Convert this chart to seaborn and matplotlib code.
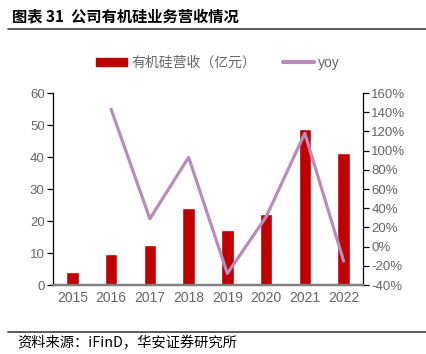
import numpy as np
import pandas as pd
import matplotlib
matplotlib.use("Agg")
import matplotlib.pyplot as plt
import seaborn as sns
from matplotlib.patches import Patch
from matplotlib.lines import Line2D
from matplotlib.ticker import FuncFormatter, MultipleLocator

# ---- data ----
years = ["2015", "2016", "2017", "2018", "2019", "2020", "2021", "2022"]
revenue = [4.0, 9.7, 12.4, 24.0, 17.1, 22.3, 48.6, 41.4]
yoy = [np.nan, 143, 29, 93, -28, 31, 118, -15]
bar_label = "有机硅营收（亿元）"
line_label = "yoy"
title = "图表 31  公司有机硅业务营收情况"
source = "资料来源：iFinD，华安证券研究所"

sns.set_style("white")
plt.rcParams["font.family"] = ["Noto Sans CJK SC", "DejaVu Sans"]
num_font = ["Liberation Sans Narrow", "Liberation Sans", "DejaVu Sans"]

BAR = "#C00000"
LINE = "#B68DBB"
GRAY = "#666666"

W, H = 427, 354
fig = plt.figure(figsize=(W / 100, H / 100), dpi=100)

def px(x0, y0, x1, y1):
    return [x0 / W, 1 - y1 / H, (x1 - x0) / W, (y1 - y0) / H]

ax = fig.add_axes(px(53, 93, 363, 285))
df = pd.DataFrame({"year": years, "revenue": revenue, "yoy": yoy})
sns.barplot(data=df, x="year", y="revenue", color=BAR, width=0.32,
            saturation=1, ax=ax, zorder=2)
ax.set_xlim(-0.5, len(years) - 0.5)
ax.set_ylim(0, 60)
ax.yaxis.set_major_locator(MultipleLocator(10))
ax.set_xlabel("")
ax.set_ylabel("")

ax2 = ax.twinx()
line_df = df.dropna().copy()
line_df["pos"] = [years.index(y) for y in line_df["year"]]
sns.lineplot(data=line_df, x="pos", y="yoy", color=LINE, linewidth=2.3,
             ax=ax2, zorder=3)
ax2.set_ylim(-40, 160)
ax2.yaxis.set_major_locator(MultipleLocator(20))
ax2.yaxis.set_major_formatter(FuncFormatter(lambda v, p: f"{v:.0f}%"))
ax2.set_xlabel("")
ax2.set_ylabel("")
ax2.set_xlim(-0.5, len(years) - 0.5)

for a in (ax, ax2):
    a.spines["top"].set_visible(False)
    a.spines["left"].set_color("black")
    a.spines["right"].set_color("black")
    a.spines["left"].set_linewidth(0.9)
    a.spines["right"].set_linewidth(0.9)
    a.spines["bottom"].set_color("#7F7F7F")
    a.spines["bottom"].set_linewidth(1.6)
    a.grid(False)
ax.spines["right"].set_visible(False)
ax2.spines["left"].set_visible(False)

ax.tick_params(axis="y", direction="out", length=4, width=0.9, color="black",
               labelcolor=GRAY, labelsize=9.5, pad=2, left=True)
ax.tick_params(axis="x", length=0, labelcolor=GRAY, labelsize=10, pad=4)
ax2.tick_params(axis="y", direction="out", length=4, width=0.9, color="black",
                labelcolor=GRAY, labelsize=9.5, pad=2, right=True)
for lab in ax.get_xticklabels() + ax.get_yticklabels() + ax2.get_yticklabels():
    lab.set_family(num_font)

# legend
handles = [Patch(facecolor=BAR, edgecolor=BAR), Line2D([], [], color=LINE, linewidth=3)]
leg = fig.legend(handles, [bar_label, line_label], loc="center",
                 bbox_to_anchor=(218 / W, 1 - 62.5 / H), ncol=2, frameon=False,
                 fontsize=10, handlelength=2.25, handleheight=0.5,
                 handletextpad=0.3, columnspacing=1.9)
for t in leg.get_texts():
    t.set_color(GRAY)
leg.get_texts()[1].set_family(num_font)

# title, separators, source
fig.text(12 / W, 1 - 16 / H, title, fontsize=11, fontweight="bold",
         va="center", ha="left", color="black")
fig.add_artist(Line2D([8 / W, 1], [1 - 29 / H] * 2, color="#404040", lw=1.2))
fig.add_artist(Line2D([8 / W, 1], [1 - 332 / H] * 2, color="#404040", lw=1.2))
fig.text(17 / W, 1 - 343 / H, source, fontsize=10.3, va="center", ha="left",
         color="black")

fig.savefig("out.png", dpi=100)
